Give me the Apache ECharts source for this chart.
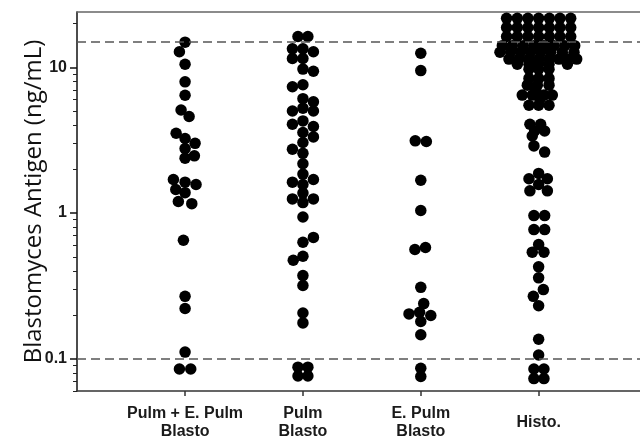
<!DOCTYPE html>
<html>
<head>
<meta charset="utf-8">
<script src="https://cdn.jsdelivr.net/npm/echarts@6.0.0/dist/echarts.min.js"></script>
<style>
html,body{margin:0;padding:0;background:#fff;}
#chart{width:640px;height:437px;}
</style>
</head>
<body>
<div id="chart"></div>
<script>
// Categories (x-axis labels)
const categories = ['Pulm + E. Pulm\nBlasto', 'Pulm\nBlasto', 'E. Pulm\nBlasto', 'Histo.'];

// Y tick labels and reference levels (ng/mL)
const yMajorTicks = [0.1, 1, 10];
const yMinorTicks = [0.06, 0.07, 0.08, 0.09, 0.2, 0.3, 0.4, 0.5, 0.6, 0.7, 0.8, 0.9,
                     2, 3, 4, 5, 6, 7, 8, 9, 20];
const refLines = [15, 0.1];

// Group 1: Pulm + E. Pulm Blasto — antigen values and beeswarm jitter (category units)
const g1Values = [14.9, 12.8, 10.5, 7.96, 6.44, 5.1, 4.6, 3.53, 3.25, 3.01, 2.77, 2.47, 2.38,
                  1.70, 1.63, 1.57, 1.45, 1.38, 1.20, 1.16, 0.65, 0.268, 0.221, 0.111, 0.085, 0.085];
const g1Jitter = [0, -0.048, 0, 0, 0, -0.034, 0.034, -0.076, 0, 0.085, 0, 0.079, 0,
                  -0.099, 0, 0.093, -0.079, 0, -0.057, 0.057, -0.014, 0, 0, 0, -0.048, 0.048];

// Group 2: Pulm Blasto
const g2Values = [16.3, 16.3, 13.4, 13.4, 12.8, 11.5, 11.5, 9.73, 9.4, 7.36, 7.6, 6.1, 5.8,
                  5.02, 5.25, 5.02, 4.07, 4.29, 3.93, 3.57, 3.33, 3.05, 2.74, 2.57, 2.18, 1.85,
                  1.63, 1.57, 1.70, 1.37, 1.25, 1.18, 1.25, 0.94, 0.63, 0.68, 0.474, 0.505,
                  0.372, 0.318, 0.206, 0.176, 0.0875, 0.0875, 0.076, 0.076];
const g2Jitter = [-0.042, 0.042, -0.089, 0, 0.089, -0.089, 0, 0, 0.089, -0.089, 0, 0, 0.089,
                  -0.089, 0, 0.089, -0.089, 0, 0.089, 0, 0.089, 0, -0.089, 0, 0, 0,
                  -0.089, 0, 0.089, 0, -0.089, 0, 0.089, 0, 0, 0.089, -0.082, 0,
                  0, 0, 0, 0, -0.042, 0.042, -0.042, 0.042];

// Group 3: E. Pulm Blasto
const g3Values = [12.5, 9.5, 3.13, 3.10, 1.68, 1.04, 0.562, 0.58, 0.309, 0.239,
                  0.203, 0.208, 0.198, 0.18, 0.146, 0.086, 0.0755];
const g3Jitter = [0, 0, -0.047, 0.047, 0, 0, -0.05, 0.04, 0, 0.025,
                  -0.1, -0.01, 0.085, 0, 0, 0, 0];

// Group 4: Histo.
const g4Values = [21.7, 21.7, 21.7, 21.7, 21.7, 21.7, 21.7,
                  18.8, 18.8, 18.8, 18.8, 18.8, 18.8, 18.8,
                  16.3, 16.3, 16.3, 16.3, 16.3, 16.3, 16.3,
                  14.1, 14.1, 14.1, 14.1, 14.1, 14.1, 14.1, 14.1,
                  12.7, 12.7, 12.7, 12.7, 12.7, 12.7, 12.7, 12.7,
                  11.4, 11.4, 11.4, 11.4, 11.4, 11.4, 11.4, 11.4,
                  10.5, 10.5, 10.5, 10.5, 10.5,
                  9.7, 9.7, 9.7, 8.4, 8.4, 8.4, 7.55, 7.55, 7.55, 7.0,
                  6.45, 6.45, 6.45, 6.45, 6.05, 5.5, 5.5, 5.5,
                  4.07, 4.07, 3.66, 3.66, 3.38, 2.89, 2.62,
                  1.87, 1.72, 1.72, 1.57, 1.42, 1.42,
                  0.96, 0.96, 0.77, 0.77, 0.608, 0.539, 0.539, 0.427, 0.359,
                  0.298, 0.268, 0.231, 0.136, 0.106, 0.085, 0.085, 0.073, 0.073];
const g4Jitter = [-0.272, -0.181, -0.091, 0, 0.091, 0.181, 0.272,
                  -0.272, -0.181, -0.091, 0, 0.091, 0.181, 0.272,
                  -0.272, -0.181, -0.091, 0, 0.091, 0.181, 0.272,
                  -0.308, -0.223, -0.130, -0.040, 0.045, 0.130, 0.221, 0.306,
                  -0.328, -0.238, -0.153, -0.068, 0.017, 0.102, 0.201, 0.300,
                  -0.252, -0.167, -0.082, 0.003, 0.088, 0.172, 0.244, 0.323,
                  -0.181, -0.082, 0, 0.088, 0.244,
                  -0.082, 0, 0.088, -0.082, 0, 0.088, -0.096, -0.011, 0.088, -0.025,
                  -0.139, -0.054, 0.045, 0.116, 0.011, -0.082, 0, 0.088,
                  -0.074, 0.017, -0.034, 0.051, -0.054, -0.04, 0.051,
                  0, -0.082, 0.074, 0, -0.074, 0.074,
                  -0.04, 0.051, -0.04, 0.051, 0, -0.054, 0.045, 0, 0,
                  0.04, -0.045, 0, 0, 0, -0.04, 0.045, -0.04, 0.045];

const groups = [[g1Values, g1Jitter], [g2Values, g2Jitter], [g3Values, g3Jitter], [g4Values, g4Jitter]];
const points = [];
groups.forEach(function (g, gi) {
  g[0].forEach(function (v, i) { points.push([gi + 1 + g[1][i], v]); });
});

const chart = echarts.init(document.getElementById('chart'), null, {renderer: 'canvas'});
const labelFont = {fontFamily: 'Liberation Sans', fontWeight: 'bold', color: '#1a1a1a'};

chart.setOption({
  animation: false,
  backgroundColor: '#ffffff',
  grid: {left: 77, right: 0, top: 12, bottom: 46, containLabel: false, outerBoundsMode: 'none'},
  xAxis: [{
    type: 'value', min: 0.083, max: 4.86, position: 'bottom',
    splitLine: {show: false},
    axisLine: {show: true, onZero: false, lineStyle: {color: '#333', width: 1.5}},
    axisTick: {show: true, customValues: [1, 2, 3, 4], length: 5, lineStyle: {color: '#333', width: 1.5}},
    axisLabel: {
      customValues: [1, 2, 3, 4],
      formatter: function (v) { return categories[Math.round(v) - 1] || ''; },
      fontSize: 16, lineHeight: 18, verticalAlign: 'middle', margin: 32,
      ...labelFont
    }
  }, {
    type: 'value', min: 0.083, max: 4.86, position: 'top',
    splitLine: {show: false},
    axisLine: {show: true, onZero: false, lineStyle: {color: '#666', width: 1.5}},
    axisTick: {show: false}, axisLabel: {show: false}
  }],
  yAxis: [{
    type: 'log', logBase: 10, min: 0.06, max: 24, position: 'left',
    name: 'Blastomyces Antigen (ng/mL)', nameLocation: 'middle', nameGap: 31,
    nameTextStyle: {fontFamily: 'Open Sans', fontSize: 24, color: '#111'},
    splitLine: {show: false},
    axisLine: {show: true, onZero: false, lineStyle: {color: '#111', width: 1.5}},
    axisTick: {show: true, customValues: yMinorTicks, length: 4, lineStyle: {color: '#222', width: 1}},
    axisLabel: {show: false}
  }, {
    type: 'log', logBase: 10, min: 0.06, max: 24, position: 'left',
    splitLine: {show: false},
    axisLine: {show: false},
    axisTick: {show: true, customValues: yMajorTicks, length: 7, lineStyle: {color: '#111', width: 1.5}},
    axisLabel: {
      customValues: yMajorTicks, margin: 10, fontSize: 16,
      formatter: function (v) { return String(v); },
      ...labelFont
    }
  }],
  series: [{
    type: 'scatter',
    xAxisIndex: 0, yAxisIndex: 0,
    data: points,
    symbol: 'circle', symbolSize: 11.5,
    itemStyle: {color: '#000', opacity: 1},
    markLine: {
      silent: true, symbol: ['none', 'none'],
      label: {show: false},
      lineStyle: {type: [9, 5], color: '#555', width: 1.5},
      data: refLines.map(function (v) { return {yAxis: v}; })
    },
    z: 3
  }]
});
</script>
</body>
</html>
